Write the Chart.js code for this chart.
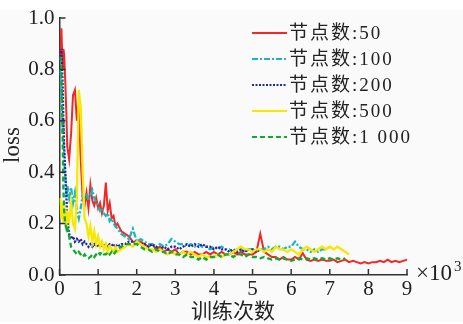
<!DOCTYPE html>
<html><head><meta charset="utf-8">
<script src="https://cdn.jsdelivr.net/npm/chart.js@4.4.1/dist/chart.umd.min.js"></script>
<style>html,body{margin:0;padding:0;background:#fff;}canvas{display:block;}</style>
</head><body>
<canvas id="c" width="463" height="324"></canvas>
<script>
// training steps (x 10^3)
const steps = [0.02,0.05,0.08,0.1,0.12,0.15,0.18,0.2,0.25,0.3,0.35,0.4,0.45,0.5,0.55,0.6,0.65,0.7,0.75,0.8,0.85,0.9,0.95,1.0,1.05,1.1,1.15,1.2,1.25,1.3,1.35,1.4,1.45,1.5,1.6,1.7,1.8,1.9,2.0,
2.1,2.2,2.3,2.4,2.5,2.6,2.7,2.8,2.9,3.0,3.1,3.2,3.3,3.4,3.5,3.6,3.7,3.8,3.9,4.0,4.1,4.2,4.3,4.4,4.5,4.6,4.7,4.8,4.9,5.0,
5.1,5.2,5.3,5.4,5.5,5.6,5.7,5.8,5.9,6.0,6.1,6.2,6.3,6.4,6.5,6.6,6.7,6.8,6.9,7.0,7.1,7.2,7.3,7.4,7.5,7.6,7.7,7.8,7.9,8.0,
8.1,8.2,8.3,8.4,8.5,8.6,8.7,8.8,8.9,9.0];

const seriesNames = ["节点数:50","节点数:100","节点数:200","节点数:500","节点数:1 000"];

const loss50 = [0.85,0.96,0.80,0.88,0.86,0.75,0.62,0.50,0.45,0.55,0.70,0.72,0.60,0.66,0.45,0.30,0.27,0.32,0.26,0.35,0.29,0.27,0.30,0.26,0.28,0.24,0.27,0.36,0.25,0.28,0.22,0.23,0.19,0.20,0.17,0.16,0.15,0.13,0.12,
0.13,0.12,0.11,0.12,0.10,0.11,0.09,0.10,0.09,0.10,0.08,0.09,0.09,0.08,0.09,0.08,0.08,0.09,0.08,0.09,0.08,0.09,0.08,0.08,0.09,0.08,0.09,0.08,0.08,0.08,
0.09,0.16,0.09,0.08,0.07,0.07,0.06,0.07,0.06,0.06,0.07,0.06,0.085,0.06,0.055,0.06,0.055,0.06,0.055,0.055,0.06,0.05,0.055,0.06,0.05,0.055,0.05,0.045,0.05,0.045,
0.05,0.05,0.055,0.05,0.06,0.05,0.055,0.05,0.055,0.06];

const loss100 = [0.80,0.70,0.55,0.60,0.45,0.38,0.30,0.35,0.30,0.34,0.28,0.32,0.25,0.22,0.26,0.31,0.30,0.32,0.29,0.31,0.33,0.30,0.28,0.27,0.25,0.26,0.24,0.23,0.24,0.21,0.22,0.20,0.19,0.18,0.16,0.15,0.14,0.18,0.13,
0.14,0.13,0.12,0.12,0.11,0.12,0.11,0.12,0.14,0.13,0.12,0.12,0.11,0.12,0.11,0.12,0.11,0.11,0.10,0.11,0.10,0.11,0.10,0.10,0.09,0.10,0.10,0.09,0.10,0.10,
0.09,0.10,0.10,0.11,0.10,0.11,0.11,0.10,0.11,0.11,0.13,0.11,0.10,0.10,0.09,0.10,0.09,0.10,0.10,0.11];

const loss200 = [0.85,0.88,0.75,0.60,0.50,0.40,0.30,0.22,0.16,0.14,0.15,0.13,0.14,0.13,0.14,0.12,0.13,0.12,0.11,0.12,0.11,0.12,0.11,0.12,0.11,0.12,0.11,0.12,0.11,0.12,0.12,0.11,0.12,0.11,0.12,0.12,0.13,0.13,0.13,
0.12,0.12,0.11,0.12,0.11,0.10,0.11,0.10,0.11,0.11,0.10,0.11,0.12,0.11,0.12,0.11,0.12,0.11,0.11,0.10,0.11,0.10,0.10,0.09,0.10,0.09,0.10,0.09,0.10,0.10,
0.09,0.10];

const loss500 = [0.30,0.22,0.28,0.20,0.25,0.22,0.20,0.24,0.21,0.28,0.20,0.18,0.30,0.72,0.65,0.40,0.22,0.20,0.15,0.19,0.13,0.17,0.12,0.15,0.11,0.13,0.10,0.12,0.09,0.11,0.10,0.09,0.11,0.09,0.10,0.11,0.12,0.11,0.13,
0.12,0.11,0.10,0.10,0.09,0.10,0.09,0.08,0.09,0.08,0.08,0.09,0.08,0.09,0.08,0.07,0.08,0.07,0.07,0.07,0.08,0.07,0.08,0.08,0.09,0.10,0.11,0.10,0.10,0.09,
0.10,0.10,0.09,0.10,0.09,0.11,0.10,0.10,0.09,0.10,0.09,0.08,0.10,0.11,0.10,0.09,0.10,0.11,0.10,0.11,0.10,0.11,0.10,0.09,0.08];

const loss1000 = [0.85,0.80,0.55,0.35,0.25,0.20,0.18,0.19,0.15,0.11,0.10,0.09,0.08,0.09,0.08,0.07,0.08,0.07,0.065,0.07,0.08,0.07,0.08,0.09,0.08,0.09,0.08,0.08,0.09,0.08,0.09,0.08,0.09,0.10,0.11,0.12,0.12,0.12,0.12,
0.11,0.10,0.10,0.09,0.10,0.09,0.09,0.08,0.09,0.08,0.08,0.07,0.08,0.07,0.07,0.06,0.07,0.06,0.07,0.07,0.08,0.07,0.08,0.08,0.07,0.08,0.08,0.07,0.08,0.07,
0.07,0.065,0.07,0.065,0.06,0.065,0.06,0.065,0.06,0.055,0.06,0.065,0.06,0.065,0.06,0.065,0.06,0.065,0.06,0.065,0.06,0.065,0.06,0.065];

const xTicks = [0,1,2,3,4,5,6,7,8,9];
const yTicks = [0.0,0.2,0.4,0.6,0.8,1.0];

const styles = [
  {color:'#f02828', dash:[], width:2, order:5},
  {color:'#1eb4c0', dash:[6,2,2,2], width:2.3, order:4},
  {color:'#1e28a8', dash:[2,1.5], width:2.3, order:3},
  {color:'#f8e800', dash:[], width:2.3, order:2},
  {color:'#14a832', dash:[5,3], width:2.3, order:1}
];
const allSeries = [loss50, loss100, loss200, loss500, loss1000];

const datasets = allSeries.map((ys,i)=>({
  label: seriesNames[i],
  data: ys.map((y,j)=>({x:steps[j], y:y})),
  borderColor: styles[i].color,
  borderDash: styles[i].dash,
  borderWidth: styles[i].width,
  order: styles[i].order,
  pointRadius: 0,
  tension: 0,
  fill: false
}));

const serif = '"Liberation Serif","Noto Sans CJK SC",serif';

const decor = {
  id:'decor',
  beforeDraw(chart){
    const ctx = chart.ctx;
    ctx.save();
    ctx.fillStyle = '#fafafa';
    ctx.fillRect(0,10,463,312);
    ctx.restore();
  },
  afterDraw(chart){
    const ctx = chart.ctx;
    const xs = chart.scales.x, ys = chart.scales.y;
    ctx.save();
    // inward ticks
    ctx.strokeStyle = '#333';
    ctx.lineWidth = 1.5;
    ctx.beginPath();
    yTicks.forEach(v=>{ const p = ys.getPixelForValue(v); ctx.moveTo(xs.left, p); ctx.lineTo(xs.left+6, p); });
    xTicks.forEach(v=>{ const p = xs.getPixelForValue(v); ctx.moveTo(p, ys.bottom); ctx.lineTo(p, ys.bottom-6); });
    ctx.stroke();
    // legend
    const rows = [33,59,85,111,137];
    chart.data.datasets.forEach((d,i)=>{
      ctx.strokeStyle = d.borderColor;
      ctx.lineWidth = 1.8;
      ctx.setLineDash(d.borderDash);
      ctx.beginPath();
      ctx.moveTo(252, rows[i]); ctx.lineTo(287, rows[i]);
      ctx.stroke();
      ctx.setLineDash([]);
      ctx.fillStyle = '#222';
      ctx.font = '19px ' + serif;
      ctx.letterSpacing = '2px';
      ctx.textBaseline = 'middle';
      ctx.textAlign = 'left';
      ctx.fillText(d.label, 289, rows[i]+1);
    });
    ctx.letterSpacing = '0px';
    // axis titles
    ctx.fillStyle = '#222';
    ctx.font = '21px ' + serif;
    ctx.textAlign = 'center';
    ctx.textBaseline = 'middle';
    ctx.fillText('训练次数', 233, 312);
    ctx.save();
    ctx.font = '23px ' + serif;
    ctx.translate(13, 145);
    ctx.rotate(-Math.PI/2);
    ctx.fillText('loss', 0, 0);
    ctx.restore();
    ctx.textAlign = 'left';
    ctx.textBaseline = 'alphabetic';
    ctx.font = '23px ' + serif;
    ctx.fillText('×10', 416, 280);
    ctx.font = '15px ' + serif;
    ctx.fillText('3', 454, 271);
    ctx.restore();
  }
};

new Chart(document.getElementById('c'), {
  type:'line',
  data:{datasets:datasets},
  options:{
    responsive:false,
    maintainAspectRatio:false,
    animation:false,
    layout:{padding:{left:0,right:56,top:18,bottom:0}},
    plugins:{legend:{display:false}, tooltip:{enabled:false}},
    scales:{
      x:{type:'linear', min:0, max:9,
        afterFit(s){ s.height = 49; },
        ticks:{stepSize:1, padding:2, color:'#222', font:{family:serif, size:21}, maxRotation:0, callback:v=>String(v)},
        grid:{drawOnChartArea:false, drawTicks:false},
        border:{display:true, color:'#333', width:1.5}
      },
      y:{type:'linear', min:0, max:1,
        afterFit(s){ s.width = 59.5; },
        ticks:{stepSize:0.2, padding:5, color:'#222', font:{family:serif, size:21}, callback:v=>v.toFixed(1)},
        grid:{drawOnChartArea:false, drawTicks:false},
        border:{display:true, color:'#333', width:1.5}
      }
    }
  },
  plugins:[decor]
});
</script>
</body></html>
